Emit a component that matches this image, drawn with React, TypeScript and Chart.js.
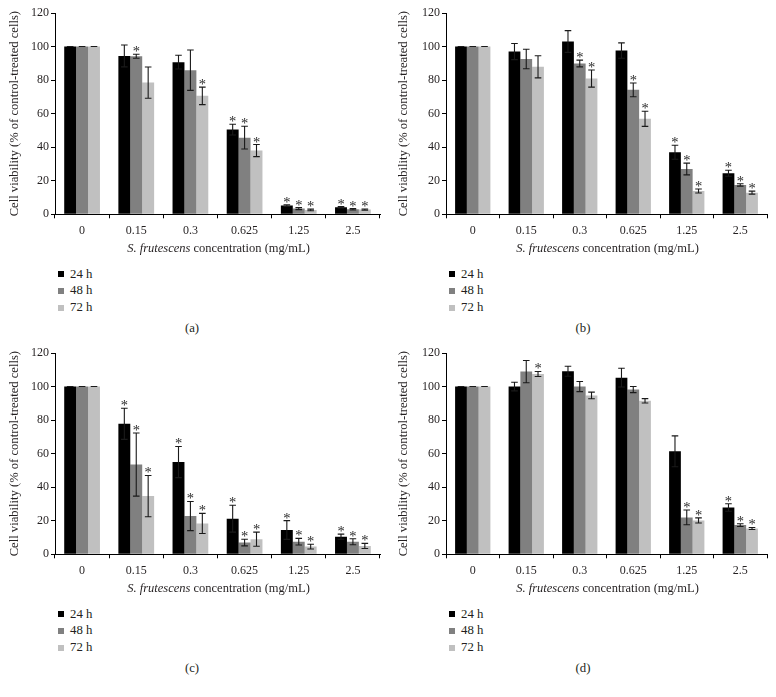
import React, { useEffect, useRef } from "react";
import { Chart, registerables } from "chart.js";

Chart.register(...registerables);

const CONCENTRATIONS = ["0", "0.15", "0.3", "0.625", "1.25", "2.5"];
const SERIES = ["24 h", "48 h", "72 h"];
const COLORS = ["#000000", "#808080", "#c0c0c0"];
const Y_TICKS = [0, 20, 40, 60, 80, 100, 120];
const Y_TITLE = "Cell viability (% of control-treated cells)";
const X_TITLE_ITALIC = "S. frutescens";
const X_TITLE_REST = " concentration (mg/mL)";

// Panel (a)
const A_MEANS = [
  [100, 94.4, 90.7, 50.5, 5.2, 4.2],
  [100, 94.2, 85.9, 45.7, 3.4, 3.0],
  [100, 78.5, 70.6, 38.0, 2.6, 2.8],
];
const A_ERRORS = [
  [0, 6.5, 4.1, 3.2, 0.5, 0.4],
  [0, 1.2, 12.0, 6.8, 0.6, 0.4],
  [0, 9.3, 5.2, 3.6, 0.5, 0.4],
];
const A_STARS = [
  [0, 0, 0, 1, 1, 1],
  [0, 1, 0, 1, 1, 1],
  [0, 0, 1, 1, 1, 1],
];

// Panel (b)
const B_MEANS = [
  [100, 97.0, 103.0, 97.6, 37.0, 24.5],
  [100, 92.6, 89.9, 74.2, 27.0, 17.5],
  [100, 87.9, 80.9, 56.9, 13.9, 12.9],
];
const B_ERRORS = [
  [0, 4.8, 6.5, 4.6, 4.2, 1.8],
  [0, 5.8, 2.0, 4.1, 3.5, 0.7],
  [0, 6.6, 5.1, 4.5, 1.2, 0.9],
];
const B_STARS = [
  [0, 0, 0, 0, 1, 1],
  [0, 0, 1, 1, 1, 1],
  [0, 0, 1, 1, 1, 1],
];

// Panel (c)
const C_MEANS = [
  [100, 77.8, 55.0, 21.2, 14.5, 10.5],
  [100, 53.5, 22.8, 7.0, 7.5, 7.5],
  [100, 34.7, 18.4, 9.0, 4.6, 5.0],
];
const C_ERRORS = [
  [0, 9.3, 9.3, 8.0, 5.6, 1.5],
  [0, 18.8, 8.7, 2.0, 2.0, 1.8],
  [0, 12.3, 6.0, 4.2, 1.4, 1.5],
];
const C_STARS = [
  [0, 1, 1, 1, 1, 1],
  [0, 1, 1, 1, 1, 1],
  [0, 1, 1, 1, 1, 1],
];

// Panel (d)
const D_MEANS = [
  [100, 100, 109.1, 105.3, 61.4, 27.9],
  [100, 108.9, 100, 98.2, 22.0, 17.4],
  [100, 107.5, 94.7, 91.5, 20.2, 15.4],
];
const D_ERRORS = [
  [0, 2.6, 3.0, 5.6, 9.2, 2.2],
  [0, 6.6, 3.0, 1.8, 4.4, 0.8],
  [0, 1.5, 2.0, 1.3, 1.5, 0.6],
];
const D_STARS = [
  [0, 0, 0, 0, 0, 1],
  [0, 0, 0, 0, 1, 1],
  [0, 1, 0, 0, 1, 1],
];

const FONT_FAMILY = '"Liberation Serif", "DejaVu Serif", serif';
const TEXT_COLOR = "#231f20";

type PanelDef = {
  label: string;
  left: number;
  top: number;
  width: number;
  axisWidth: number;
  padRight: number;
  means: number[][];
  errors: number[][];
  stars: number[][];
};

const PANELS: PanelDef[] = [
  { label: "(a)", left: 0, top: 0, width: 388, axisWidth: 55, padRight: 8, means: A_MEANS, errors: A_ERRORS, stars: A_STARS },
  { label: "(b)", left: 389, top: 0, width: 387, axisWidth: 57, padRight: 9, means: B_MEANS, errors: B_ERRORS, stars: B_STARS },
  { label: "(c)", left: 0, top: 340, width: 388, axisWidth: 55, padRight: 8, means: C_MEANS, errors: C_ERRORS, stars: C_STARS },
  { label: "(d)", left: 389, top: 340, width: 387, axisWidth: 57, padRight: 9, means: D_MEANS, errors: D_ERRORS, stars: D_STARS },
];

const CANVAS_H = 255;

function makeErrorPlugin(p: PanelDef) {
  return {
    id: "errorBars",
    afterDatasetsDraw(chart: any) {
      const ctx = chart.ctx;
      const y = chart.scales.y;
      ctx.save();
      chart.data.datasets.forEach((_ds: any, i: number) => {
        const meta = chart.getDatasetMeta(i);
        meta.data.forEach((el: any, j: number) => {
          const v = p.means[i][j];
          const e = p.errors[i][j];
          const yt = y.getPixelForValue(v + e);
          const yb = y.getPixelForValue(v - e);
          const x = el.x;
          const cap = 3.3;
          ctx.strokeStyle = "#1a1a1a";
          ctx.lineWidth = 1.1;
          ctx.beginPath();
          ctx.moveTo(x, yt);
          ctx.lineTo(x, yb);
          ctx.moveTo(x - cap, yt);
          ctx.lineTo(x + cap, yt);
          ctx.moveTo(x - cap, yb);
          ctx.lineTo(x + cap, yb);
          ctx.stroke();
          if (p.stars[i][j]) {
            ctx.fillStyle = "#2a2a2a";
            ctx.font = `14.5px ${FONT_FAMILY}`;
            ctx.textAlign = "center";
            ctx.textBaseline = "alphabetic";
            ctx.fillText("*", x, yt + 2);
          }
        });
      });
      ctx.restore();
    },
    afterDraw(chart: any) {
      const ctx = chart.ctx;
      const area = chart.chartArea;
      ctx.save();
      const italic = `italic 12.5px ${FONT_FAMILY}`;
      const normal = `12.5px ${FONT_FAMILY}`;
      ctx.font = italic;
      const w1 = ctx.measureText(X_TITLE_ITALIC).width;
      ctx.font = normal;
      const w2 = ctx.measureText(X_TITLE_REST).width;
      const cx = (area.left + area.right) / 2 + 1;
      const startX = cx - (w1 + w2) / 2;
      const ty = area.bottom + 34;
      ctx.fillStyle = TEXT_COLOR;
      ctx.textBaseline = "middle";
      ctx.textAlign = "left";
      ctx.font = italic;
      ctx.fillText(X_TITLE_ITALIC, startX, ty);
      ctx.font = normal;
      ctx.fillText(X_TITLE_REST, startX + w1, ty);
      ctx.restore();
    },
  };
}

function Panel({ p }: { p: PanelDef }) {
  const ref = useRef<HTMLCanvasElement | null>(null);
  useEffect(() => {
    if (!ref.current) return;
    const tickFont = { family: FONT_FAMILY, size: 12 };
    const chart = new Chart(ref.current, {
      type: "bar",
      data: {
        labels: CONCENTRATIONS,
        datasets: SERIES.map((s, i) => ({
          label: s,
          data: p.means[i],
          backgroundColor: COLORS[i],
          borderWidth: 0,
          categoryPercentage: 0.66,
          barPercentage: 1,
        })),
      },
      options: {
        responsive: false,
        animation: false,
        devicePixelRatio: 1,
        layout: { padding: { top: 13, right: p.padRight, bottom: 0, left: 0 } },
        plugins: { legend: { display: false }, tooltip: { enabled: false } },
        scales: {
          x: {
            grid: { display: true, drawOnChartArea: false, offset: true, tickLength: 4, color: "#000" },
            border: { color: "#000", width: 1 },
            ticks: { font: tickFont, color: TEXT_COLOR, padding: 5, maxRotation: 0 },
            afterFit: (s: any) => {
              s.height = 40.7;
            },
          },
          y: {
            min: 0,
            max: 120,
            afterBuildTicks: (s: any) => {
              s.ticks = Y_TICKS.map((v) => ({ value: v }));
            },
            ticks: { font: tickFont, color: TEXT_COLOR, padding: 2 },
            grid: { drawOnChartArea: false, tickLength: 4, color: "#000" },
            border: { color: "#000", width: 1 },
            title: {
              display: true,
              text: Y_TITLE,
              font: { family: FONT_FAMILY, size: 12.6 },
              color: TEXT_COLOR,
              padding: { top: 7.5, bottom: 0 },
            },
            afterFit: (s: any) => {
              s.width = p.axisWidth;
            },
          },
        },
      } as any,
      plugins: [makeErrorPlugin(p)],
    });
    return () => chart.destroy();
  }, [p]);

  const legendLeft = p.left + p.axisWidth + 3;
  return (
    <>
      <canvas
        ref={ref}
        width={p.width}
        height={CANVAS_H}
        style={{ position: "absolute", left: p.left, top: p.top, width: p.width, height: CANVAS_H }}
      />
      {SERIES.map((s, i) => (
        <div
          key={s}
          style={{
            position: "absolute",
            left: legendLeft,
            top: p.top + 266 + i * 16.8,
            height: 16,
            display: "flex",
            alignItems: "center",
            fontFamily: FONT_FAMILY,
            fontSize: 12.8,
            color: TEXT_COLOR,
            whiteSpace: "nowrap",
          }}
        >
          <span style={{ display: "inline-block", width: 6, height: 6, background: COLORS[i], marginRight: 6 }} />
          {s}
        </div>
      ))}
      <div
        style={{
          position: "absolute",
          left: p.left + p.axisWidth + 137 - 40,
          width: 80,
          top: p.top + 321,
          textAlign: "center",
          fontFamily: FONT_FAMILY,
          fontSize: 12.8,
          color: TEXT_COLOR,
        }}
      >
        {p.label}
      </div>
    </>
  );
}

export default function App() {
  return (
    <div style={{ position: "fixed", left: 0, top: 0, width: 776, height: 697, background: "#fff", overflow: "hidden" }}>
      {PANELS.map((p) => (
        <Panel key={p.label} p={p} />
      ))}
    </div>
  );
}
